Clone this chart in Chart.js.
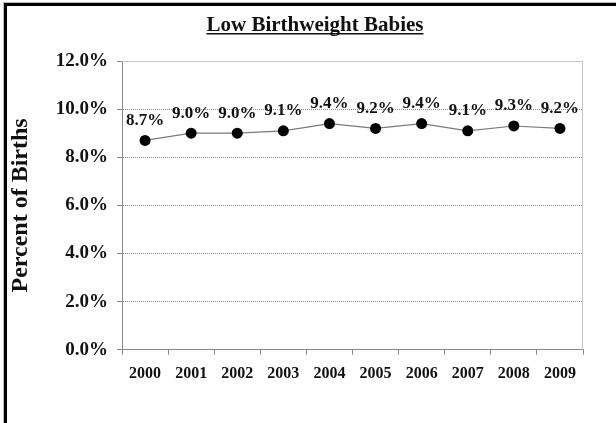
<!DOCTYPE html>
<html>
<head>
<meta charset="utf-8">
<title>Low Birthweight Babies</title>
<script src="https://cdn.jsdelivr.net/npm/chart.js@4.4.0/dist/chart.umd.min.js"></script>
<style>
    body { margin: 0; background: #fff; }
    #wrap { position: relative; width: 616px; height: 423px; }
</style>
</head>
<body>
<div id="wrap"><canvas id="birthChart"></canvas></div>
<script>
const years = ['2000', '2001', '2002', '2003', '2004', '2005', '2006', '2007', '2008', '2009'];
const lowBirthweight = [8.7, 9.0, 9.0, 9.1, 9.4, 9.2, 9.4, 9.1, 9.3, 9.2];
const yMin = 0;
const yMax = 12;
const yStep = 2;

const serif = "'Liberation Serif', 'Times New Roman', serif";

// frame, underlined title and the value labels over each point
const decorations = {
    id: 'decorations',
    beforeDraw(chart) {
        const c = chart.ctx;
        c.save();
        c.fillStyle = '#fff';
        c.fillRect(0, 0, chart.width, chart.height);
        c.restore();
    },
    afterDraw(chart) {
        const c = chart.ctx;
        const area = chart.chartArea;
        c.save();

        // plot frame, top and right
        c.strokeStyle = '#c4c4c4';
        c.lineWidth = 1;
        c.beginPath();
        c.moveTo(area.left, area.top + 0.5);
        c.lineTo(area.right - 0.5, area.top + 0.5);
        c.lineTo(area.right - 0.5, area.bottom);
        c.stroke();

        // page border
        c.fillStyle = '#bbb';
        c.fillRect(3, 2, 1, chart.height);
        c.fillRect(3, 2, chart.width, 1);
        c.fillStyle = '#000';
        c.fillRect(4, 3, 3, chart.height);
        c.fillRect(4, 3, chart.width, 3);

        // title
        const title = 'Low Birthweight Babies';
        c.font = 'bold 21px ' + serif;
        c.fillStyle = '#111';
        c.textAlign = 'center';
        c.textBaseline = 'alphabetic';
        const cx = chart.width / 2 + 7;
        c.fillText(title, cx, 31);
        const w = c.measureText(title).width;
        c.fillRect(cx - w / 2, 33, w, 1.5);

        // value labels
        const meta = chart.getDatasetMeta(0);
        c.font = 'bold 17px ' + serif;
        c.textBaseline = 'middle';
        meta.data.forEach((pt, i) => {
            c.fillText(lowBirthweight[i].toFixed(1) + '%', pt.x, pt.y - 20);
        });
        c.restore();
    }
};

const ctx = document.getElementById('birthChart').getContext('2d');
const chart = new Chart(ctx, {
    type: 'line',
    data: {
        labels: years,
        datasets: [{
            label: 'Low Birthweight',
            data: lowBirthweight,
            borderColor: '#7a7a7a',
            borderWidth: 1.2,
            pointBackgroundColor: '#000',
            pointBorderColor: '#000',
            pointRadius: 5.5,
            pointBorderWidth: 0,
            tension: 0
        }]
    },
    options: {
        responsive: true,
        maintainAspectRatio: false,
        animation: false,
        layout: {
            padding: { left: 6, right: 33, top: 61, bottom: 31 }
        },
        plugins: {
            legend: { display: false },
            title: { display: false },
            tooltip: { enabled: false }
        },
        scales: {
            x: {
                offset: true,
                grid: {
                    offset: true,
                    drawOnChartArea: false,
                    drawTicks: true,
                    tickLength: 5,
                    color: '#888'
                },
                border: { color: '#888', width: 1 },
                ticks: {
                    color: '#111',
                    padding: 9,
                    maxRotation: 0,
                    font: { family: serif, size: 16, weight: 'bold' }
                }
            },
            y: {
                min: yMin,
                max: yMax,
                afterFit(scale) { scale.width = 116; },
                grid: {
                    color: '#8c8c8c',
                    tickLength: 5,
                    tickColor: '#888',
                    tickBorderDash: []
                },
                border: { color: '#888', width: 1, dash: [1, 1] },
                ticks: {
                    stepSize: yStep,
                    color: '#111',
                    padding: 9,
                    font: { family: serif, size: 19, weight: 'bold' },
                    callback: (v) => v.toFixed(1) + '%'
                },
                title: {
                    display: true,
                    text: 'Percent of Births',
                    color: '#111',
                    padding: 0,
                    font: { family: serif, size: 24, weight: 'bold' }
                }
            }
        }
    },
    plugins: [decorations]
});
</script>
</body>
</html>
